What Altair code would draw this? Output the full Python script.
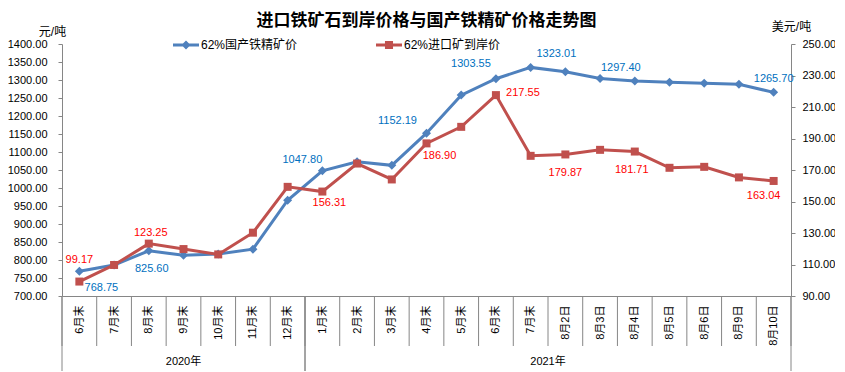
import json
import altair as alt
import pandas as pd

# ---------------- data ----------------
categories = ["6月末", "7月末", "8月末", "9月末", "10月末", "11月末", "12月末",
              "1月末", "2月末", "3月末", "4月末", "5月末", "6月末", "7月末",
              "8月2日", "8月3日", "8月4日", "8月5日", "8月6日", "8月9日", "8月10日"]
years = ["2020年"] * 7 + ["2021年"] * 14
domestic = [768.75, 786.0, 825.60, 813.0, 817.0, 830.0, 966.0,
            1047.80, 1073.0, 1063.0, 1152.19, 1258.0, 1303.55, 1335.0,
            1323.01, 1304.0, 1297.40, 1294.0, 1291.0, 1288.0, 1265.70]
imported = [99.17, 109.7, 123.25, 119.8, 116.4, 130.2, 159.3,
            156.31, 174.1, 164.0, 186.90, 197.4, 217.55, 179.0,
            179.87, 182.8, 181.71, 171.4, 172.0, 165.3, 163.04]
series_names = ["62%国产铁精矿价", "62%进口矿到岸价"]
left_ticks = list(range(700, 1401, 50))
right_ticks = list(range(90, 251, 20))

# label placement (pixel offsets of the data labels from their points)
blue_label_offsets = {0: (22, 17), 2: (3, 18), 7: (-20, -11), 10: (-29, -12),
                      12: (-25, -15), 14: (-9, -18), 16: (-14, -13), 20: (0, -13)}
red_label_offsets = {0: (0, -22), 2: (2, -11), 7: (7, 11), 10: (13, 13),
                     12: (27, -2), 14: (0, 19), 16: (-3, 18), 20: (-10, 15)}

BLUE = "#4F81BD"
RED = "#C0504D"
BLUE_TXT = "#0070C0"
RED_TXT = "#FF0000"
GREY = "#868686"
FONT = "Liberation Sans, Noto Sans CJK SC, sans-serif"

n = len(categories)
df = pd.DataFrame({"idx": list(range(n)), "cat": categories, "year": years,
                   "domestic": domestic, "imported": imported})
sep_df = pd.DataFrame({"b": [i - 0.5 for i in range(n + 1)]})
legend_df = pd.DataFrame({"series": series_names})

# ---------------- encodings ----------------
xscale = alt.Scale(domain=[-0.5, n - 0.5], nice=False, zero=False)
label_expr = json.dumps(categories, ensure_ascii=False) + "[datum.value]"
xaxis = alt.Axis(values=list(range(n)), labelExpr=label_expr, labelAngle=270,
                 ticks=False, grid=False, domainColor=GREY, labelPadding=9,
                 labelFontSize=11, labelColor="#000000", title=None,
                 labelOverlap=False)


def X(field):
    return alt.X(f"{field}:Q", scale=xscale, axis=xaxis, title=None)


yl_axis = alt.Axis(values=left_ticks, format=".2f", orient="left", grid=False,
                   tickSize=4, tickColor=GREY, domainColor=GREY, labelPadding=11,
                   labelFontSize=11, labelColor="#000000",
                   title="元/吨", titleAngle=0, titleX=-10, titleY=-13,
                   titleAlign="center", titleBaseline="middle", titleFontSize=12,
                   titleFontWeight="normal", titleColor="#000000")
yr_axis = alt.Axis(values=right_ticks, format=".2f", orient="right", grid=False,
                   tickSize=4, tickColor=GREY, domainColor=GREY, labelPadding=7,
                   labelFontSize=11, labelColor="#000000",
                   title="美元/吨", titleAngle=0, titleX=0, titleY=-18,
                   titleAlign="center", titleBaseline="middle", titleFontSize=12,
                   titleFontWeight="normal", titleColor="#000000")

YL = alt.Y("domestic:Q", scale=alt.Scale(domain=[700, 1400], nice=False, zero=False), axis=yl_axis)
YR = alt.Y("imported:Q", scale=alt.Scale(domain=[90, 250], nice=False, zero=False), axis=yr_axis)

base = alt.Chart(df)

blue_line = base.mark_line(color=BLUE, strokeWidth=3).encode(x=X("idx"), y=YL)
blue_pts = base.mark_point(shape="diamond", filled=True, size=81, color=BLUE,
                           opacity=1).encode(x=X("idx"), y=YL)
blue_labels = [
    base.transform_filter(f"datum.idx == {i}")
    .mark_text(fontSize=11, color=BLUE_TXT, dx=dx, dy=dy, align="center", baseline="middle")
    .encode(x=X("idx"), y=YL, text=alt.Text("domestic:Q", format=".2f"))
    for i, (dx, dy) in blue_label_offsets.items()
]

line_part = "M-1,-0.115H1V0.115H-1Z"
legend_paths = [line_part + " M0,-0.35L0.35,0L0,0.35L-0.35,0Z",
                line_part + " M-0.31,-0.31H0.31V0.31H-0.31Z"]
leg = alt.Legend(title=None, orient="none", legendX=111, legendY=-12,
                 direction="horizontal", symbolSize=676, symbolStrokeWidth=0,
                 labelFontSize=12, labelOffset=2, columnPadding=78, padding=0,
                 labelColor="#000000", labelFont=FONT)
legend_layer = alt.Chart(legend_df).transform_filter("false").mark_point(
    filled=True, opacity=1).encode(
    color=alt.Color("series:N", scale=alt.Scale(domain=series_names, range=[BLUE, RED]), legend=leg),
    shape=alt.Shape("series:N", scale=alt.Scale(domain=series_names, range=legend_paths), legend=leg),
)

red_line = base.mark_line(color=RED, strokeWidth=3).encode(x=X("idx"), y=YR)
red_pts = base.mark_point(shape="square", filled=True, size=64, color=RED,
                          opacity=1).encode(x=X("idx"), y=YR)
red_labels = [
    base.transform_filter(f"datum.idx == {i}")
    .mark_text(fontSize=11, color=RED_TXT, dx=dx, dy=dy, align="center", baseline="middle")
    .encode(x=X("idx"), y=YR, text=alt.Text("imported:Q", format=".2f"))
    for i, (dx, dy) in red_label_offsets.items()
]

left = alt.layer(blue_line, blue_pts, *blue_labels, legend_layer)
right = alt.layer(red_line, red_pts, *red_labels)

sep_rules = alt.Chart(sep_df).mark_rule(color=GREY, strokeWidth=1).encode(
    x=X("b"), y=alt.value(252), y2=alt.value(302))
year_rules = base.transform_aggregate(
    lo="min(idx)", hi="max(idx)", groupby=["year"]
).transform_fold(["lo", "hi"], as_=["k", "v"]).transform_calculate(
    b="datum.k == 'lo' ? datum.v - 0.5 : datum.v + 0.5"
).mark_rule(color=GREY, strokeWidth=1).encode(
    x=X("b"), y=alt.value(252), y2=alt.value(327))
year_text = base.transform_aggregate(
    mid="mean(idx)", groupby=["year"]
).mark_text(fontSize=11, baseline="middle", align="center", color="#000000").encode(
    x=X("mid"), y=alt.value(318), text="year:N")

chart = alt.layer(left, right, sep_rules, year_rules, year_text).resolve_scale(
    y="independent"
).properties(
    width=729, height=252,
    autosize=alt.AutoSizeParams(type="none"),
    padding={"left": 54, "top": 36, "right": 44, "bottom": 76},
    title=alt.Title("进口铁矿石到岸价格与国产铁精矿价格走势图", fontSize=17,
                    font="Noto Sans CJK SC", fontWeight="bold", anchor="middle",
                    color="#000000", offset=-10),
).configure(font=FONT).configure_view(stroke=None).configure_text(font=FONT)

chart.save("out.html", embed_options={"renderer": "svg", "actions": False})
